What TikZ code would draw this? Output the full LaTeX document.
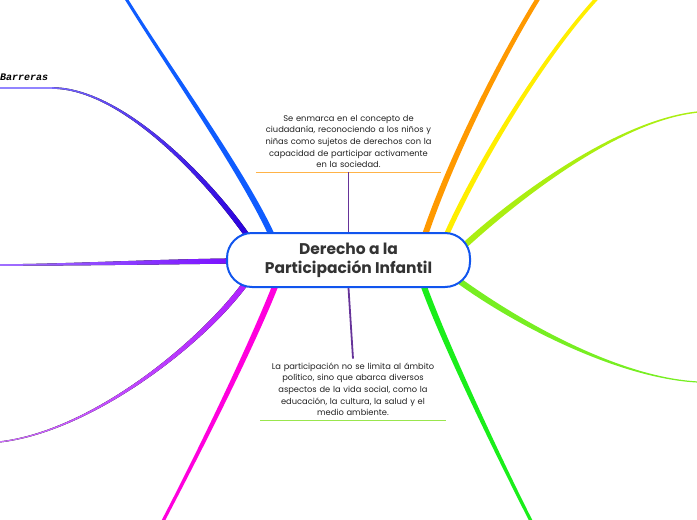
\documentclass[tikz,border=0pt]{standalone}
\usepackage{fontspec}
\setmainfont{Poppins}
\newfontfamily\barfont{Liberation Mono}
\usetikzlibrary{calc}
\definecolor{cblue}{HTML}{1155EE}
\definecolor{bblue}{HTML}{0F5CFF}
\definecolor{bindigo}{HTML}{2A00DD}
\definecolor{bindigoL}{HTML}{7766FF}
\definecolor{bviolet}{HTML}{7A10FF}
\definecolor{bvioletL}{HTML}{A070FF}
\definecolor{bpurple}{HTML}{B020FF}
\definecolor{bpurpleL}{HTML}{D070FF}
\definecolor{bmagenta}{HTML}{FF00DD}
\definecolor{bgreen}{HTML}{1AEE1A}
\definecolor{blgreen}{HTML}{77EE22}
\definecolor{bygreen}{HTML}{AAEE11}
\definecolor{byellow}{HTML}{FFEE00}
\definecolor{borange}{HTML}{FF9900}
\definecolor{conncol}{HTML}{663399}
\definecolor{uorange}{HTML}{FFB347}
\definecolor{ugreen}{HTML}{99E64D}
\definecolor{txtcol}{HTML}{222222}
\definecolor{titlecol}{HTML}{333333}
% tapered branch: #1 fill options, #2 A, #3 B, #4 C, #5 D, #6 half width at A, #7 half width at D
\newcommand\taper[7]{%
  \path (#2) coordinate (tA) (#3) coordinate (tB) (#4) coordinate (tC) (#5) coordinate (tD);
  \path ($(tA)!#6!90:(tB)$) coordinate (tAl) ($(tA)!#6!-90:(tB)$) coordinate (tAr)
        ($(tD)!#7!-90:(tC)$) coordinate (tDl) ($(tD)!#7!90:(tC)$) coordinate (tDr);
  \fill[#1] (tAl) .. controls ($(tB)+(tAl)-(tA)$) and ($(tC)+(tDl)-(tD)$) .. (tDl)
    -- (tDr) .. controls ($(tC)+(tDr)-(tD)$) and ($(tB)+(tAr)-(tA)$) .. (tAr) -- cycle;
}
\tikzset{
  txt/.style={text=txtcol, font=\fontsize{8.3}{11.6}\selectfont, align=center,
    text width=185pt, inner xsep=0pt, inner ysep=4pt},
  conn/.style={draw=conncol, line width=1.8pt},
  central/.style={draw=cblue, line width=2pt, fill=white, rounded corners=25pt,
    minimum width=243pt, minimum height=54pt, text=titlecol, align=center,
    font=\fontsize{15.5}{19}\selectfont\bfseries}
}
\begin{document}
\begin{tikzpicture}[x=1pt,y=-1pt]
\useasboundingbox (0,0) rectangle (697,520);
% branch start and end points
\coordinate (s1) at (273,238); \coordinate (e1) at (125,-3);
\coordinate (s2) at (249,238); \coordinate (e2) at (52,88);
\coordinate (e2b) at (0,88);
\coordinate (s3) at (232,261); \coordinate (e3) at (-1,265);
\coordinate (s4) at (245,284); \coordinate (e4) at (-1,442);
\coordinate (s5) at (276,284); \coordinate (e5) at (162,523);
\coordinate (s6) at (423,284); \coordinate (e6) at (532,523);
\coordinate (s7) at (458,280); \coordinate (e7) at (698,382);
\coordinate (s8) at (465,245); \coordinate (e8) at (698,112);
\coordinate (s9) at (445,238); \coordinate (e9) at (598,-3);
\coordinate (s10) at (424,238); \coordinate (e10) at (539,-3);
% branches
\taper{bblue}{s1}{245,175}{170,70}{e1}{3pt}{1.5pt}
\taper{left color=bindigoL,right color=bindigo}{s2}{205,175}{120,88}{e2}{2.6pt}{0.8pt}
\draw[bindigoL!80!white, line width=1.6pt] (e2) -- (e2b);
\node[anchor=south west, inner sep=0pt, text=black] (bar) at (0,81)
  {\barfont\fontsize{10}{11}\selectfont\bfseries\itshape Barreras};
\taper{left color=bvioletL,right color=bviolet}{s3}{150,262}{60,265}{e3}{2.6pt}{0.8pt}
\taper{left color=bpurpleL,right color=bpurple}{s4}{200,345}{90,432}{e4}{2.8pt}{0.6pt}
\taper{bmagenta}{s5}{250,350}{195,460}{e5}{3pt}{1.6pt}
\taper{bgreen}{s6}{445,345}{500,460}{e6}{3pt}{1.6pt}
\taper{blgreen}{s7}{520,325}{620,378}{e7}{3pt}{0.6pt}
\taper{bygreen}{s8}{520,195}{620,120}{e8}{3pt}{0.7pt}
\taper{byellow}{s9}{475,170}{540,60}{e9}{2.6pt}{1.8pt}
\taper{borange}{s10}{450,160}{500,60}{e10}{3pt}{2.2pt}
% central node
\node[central] (c) at (348.5,260) {Derecho a la\\Participación Infantil};
% top text
\node[txt, anchor=south] (t1) at (348.5,172) {Se enmarca en el concepto de\\
  ciudadanía, reconociendo a los niños y\\ niñas como sujetos de derechos con la\\
  capacidad de participar activamente\\ en la sociedad.};
\draw[uorange, line width=0.9pt] (t1.south west) -- (t1.south east);
\draw[conn] (t1.south) -- (c.north);
% bottom text
\node[txt, anchor=south] (t2) at (353,420) {La participación no se limita al ámbito\\
  político, sino que abarca diversos\\ aspectos de la vida social, como la\\
  educación, la cultura, la salud y el\\ medio ambiente.};
\draw[ugreen, line width=0.9pt] (t2.south west) -- (t2.south east);
\draw[conn] (c.south) -- (t2.north);
\end{tikzpicture}
\end{document}
